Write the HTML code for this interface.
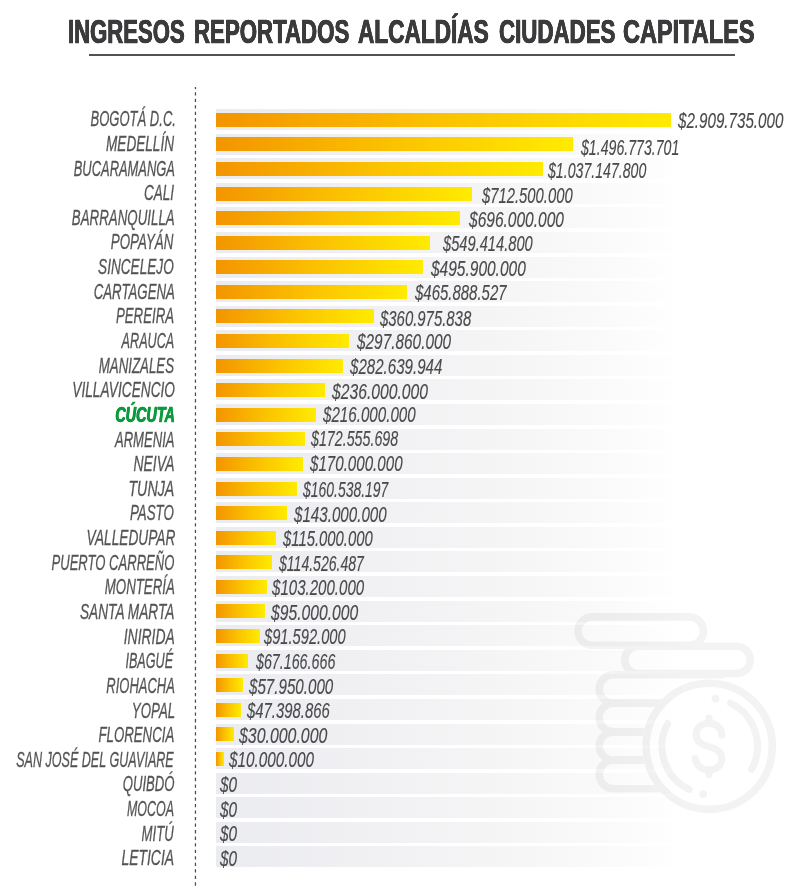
<!DOCTYPE html>
<html lang="es"><head><meta charset="utf-8"><title>Ingresos reportados alcaldías ciudades capitales</title>
<style>
html,body{margin:0;padding:0;background:#fff;font-family:"Liberation Sans",sans-serif;}
body{width:800px;height:896px;position:relative;overflow:hidden;font-family:"Liberation Sans",sans-serif;}
.title{position:absolute;left:0;top:11.1px;white-space:nowrap;font-weight:bold;font-size:33.7px;line-height:40px;color:#3b3b3d;-webkit-text-stroke:0.7px #3b3b3d;text-shadow:0.45px 0 0 #3b3b3d,-0.45px 0 0 #3b3b3d;transform-origin:0 50%;}
.rule{position:absolute;left:88.8px;top:54.1px;width:646.2px;height:1.8px;background:#525254;}
.band{position:absolute;left:216px;width:466px;height:21.0px;background:linear-gradient(to right,#ebecf0 0%,#f0f0f3 30%,#f5f5f6 61%,#fafafb 84%,#ffffff 100%);}
.bar{position:absolute;left:216px;height:14.0px;background:linear-gradient(to right,#f39500 0%,#fbc100 48%,#ffeb00 100%);}
.lbl{position:absolute;right:0;white-space:nowrap;font-style:italic;font-size:21.2px;line-height:24px;height:24px;color:#555557;-webkit-text-stroke:0.3px #555557;transform-origin:100% 50%;}
.lbl.hl{color:#0b9a3c;font-weight:bold;-webkit-text-stroke:0.3px #0b9a3c;text-shadow:0.5px 0 0 #0b9a3c,-0.5px 0 0 #0b9a3c;}
.val{position:absolute;left:0;white-space:nowrap;font-style:italic;font-size:21.4px;line-height:24px;height:24px;color:#4a4a4c;-webkit-text-stroke:0.15px #4a4a4c;transform-origin:0 50%;}
</style></head><body>
<div id="wrap" style="position:absolute;left:0;top:0;width:800px;height:896px;will-change:transform;">
<div class="title" style="left:67.50px;transform:scaleX(0.6559)">INGRESOS</div>
<div class="title" style="left:194.00px;transform:scaleX(0.6601)">REPORTADOS</div>
<div class="title" style="left:358.00px;transform:scaleX(0.6716)">ALCALDÍAS</div>
<div class="title" style="left:499.00px;transform:scaleX(0.6618)">CIUDADES</div>
<div class="title" style="left:623.00px;transform:scaleX(0.6980)">CAPITALES</div>
<div class="rule"></div>
<svg style="position:absolute;left:0;top:0" width="800" height="896" viewBox="0 0 800 896"><line x1="195.45" y1="87" x2="195.45" y2="888.6" stroke="#4c4c4e" stroke-width="1.25" stroke-dasharray="3.3 3.23" stroke-dashoffset="1.33"/></svg>

<div class="band" style="top:109.00px"></div>
<div class="bar" style="top:112.80px;width:454.8px"></div>
<div class="lbl" style="top:107.30px;right:624.25px;transform:scaleX(0.6146)">BOGOTÁ D.C.</div>
<div class="val" style="top:109.20px;left:678.35px;transform:scaleX(0.7085)">$2.909.735.000</div>
<div class="band" style="top:133.58px"></div>
<div class="bar" style="top:137.38px;width:357.2px"></div>
<div class="lbl" style="top:131.94px;right:626.00px;transform:scaleX(0.6415)">MEDELLÍN</div>
<div class="val" style="top:135.68px;left:581.15px;transform:scaleX(0.6614)">$1.496.773.701</div>
<div class="band" style="top:158.17px"></div>
<div class="bar" style="top:161.97px;width:326.7px"></div>
<div class="lbl" style="top:156.57px;right:625.00px;transform:scaleX(0.6102)">BUCARAMANGA</div>
<div class="val" style="top:159.37px;left:547.65px;transform:scaleX(0.6611)">$1.037.147.800</div>
<div class="band" style="top:182.75px"></div>
<div class="bar" style="top:186.55px;width:255.5px"></div>
<div class="lbl" style="top:181.21px;right:625.50px;transform:scaleX(0.6370)">CALI</div>
<div class="val" style="top:183.65px;left:481.95px;transform:scaleX(0.6933)">$712.500.000</div>
<div class="band" style="top:207.33px"></div>
<div class="bar" style="top:211.13px;width:244.0px"></div>
<div class="lbl" style="top:205.84px;right:625.50px;transform:scaleX(0.6282)">BARRANQUILLA</div>
<div class="val" style="top:207.53px;left:468.95px;transform:scaleX(0.7252)">$696.000.000</div>
<div class="band" style="top:231.91px"></div>
<div class="bar" style="top:235.72px;width:214.0px"></div>
<div class="lbl" style="top:230.48px;right:626.75px;transform:scaleX(0.6292)">POPAYÁN</div>
<div class="val" style="top:232.11px;left:443.35px;transform:scaleX(0.6857)">$549.414.800</div>
<div class="band" style="top:256.50px"></div>
<div class="bar" style="top:260.30px;width:207.1px"></div>
<div class="lbl" style="top:255.12px;right:626.50px;transform:scaleX(0.6425)">SINCELEJO</div>
<div class="val" style="top:256.70px;left:431.35px;transform:scaleX(0.7242)">$495.900.000</div>
<div class="band" style="top:281.08px"></div>
<div class="bar" style="top:284.88px;width:190.6px"></div>
<div class="lbl" style="top:279.75px;right:625.25px;transform:scaleX(0.6250)">CARTAGENA</div>
<div class="val" style="top:281.28px;left:415.35px;transform:scaleX(0.6994)">$465.888.527</div>
<div class="band" style="top:305.66px"></div>
<div class="bar" style="top:309.46px;width:158.2px"></div>
<div class="lbl" style="top:304.39px;right:625.75px;transform:scaleX(0.6245)">PEREIRA</div>
<div class="val" style="top:306.86px;left:380.35px;transform:scaleX(0.6970)">$360.975.838</div>
<div class="band" style="top:330.25px"></div>
<div class="bar" style="top:334.05px;width:133.4px"></div>
<div class="lbl" style="top:329.02px;right:625.50px;transform:scaleX(0.5970)">ARAUCA</div>
<div class="val" style="top:330.45px;left:356.65px;transform:scaleX(0.7191)">$297.860.000</div>
<div class="band" style="top:354.83px"></div>
<div class="bar" style="top:358.63px;width:126.7px"></div>
<div class="lbl" style="top:353.66px;right:625.50px;transform:scaleX(0.6270)">MANIZALES</div>
<div class="val" style="top:355.03px;left:350.15px;transform:scaleX(0.7055)">$282.639.944</div>
<div class="band" style="top:379.41px"></div>
<div class="bar" style="top:383.21px;width:108.8px"></div>
<div class="lbl" style="top:378.30px;right:625.25px;transform:scaleX(0.6459)">VILLAVICENCIO</div>
<div class="val" style="top:379.61px;left:332.35px;transform:scaleX(0.7331)">$236.000.000</div>
<div class="band" style="top:404.00px"></div>
<div class="bar" style="top:407.80px;width:99.6px"></div>
<div class="lbl hl" style="top:402.93px;right:625.50px;transform:scaleX(0.6775)">CÚCUTA</div>
<div class="val" style="top:403.10px;left:323.15px;transform:scaleX(0.7083)">$216.000.000</div>
<div class="band" style="top:428.58px"></div>
<div class="bar" style="top:432.38px;width:88.9px"></div>
<div class="lbl" style="top:427.57px;right:625.50px;transform:scaleX(0.6173)">ARMENIA</div>
<div class="val" style="top:427.48px;left:311.35px;transform:scaleX(0.6664)">$172.555.698</div>
<div class="band" style="top:453.16px"></div>
<div class="bar" style="top:456.96px;width:87.1px"></div>
<div class="lbl" style="top:452.20px;right:625.50px;transform:scaleX(0.6561)">NEIVA</div>
<div class="val" style="top:452.26px;left:309.75px;transform:scaleX(0.7073)">$170.000.000</div>
<div class="band" style="top:477.75px"></div>
<div class="bar" style="top:481.55px;width:80.6px"></div>
<div class="lbl" style="top:476.84px;right:625.50px;transform:scaleX(0.6717)">TUNJA</div>
<div class="val" style="top:478.25px;left:303.35px;transform:scaleX(0.6516)">$160.538.197</div>
<div class="band" style="top:502.33px"></div>
<div class="bar" style="top:506.13px;width:70.8px"></div>
<div class="lbl" style="top:501.48px;right:625.75px;transform:scaleX(0.6290)">PASTO</div>
<div class="val" style="top:502.73px;left:294.35px;transform:scaleX(0.7083)">$143.000.000</div>
<div class="band" style="top:526.91px"></div>
<div class="bar" style="top:530.71px;width:59.6px"></div>
<div class="lbl" style="top:526.11px;right:625.00px;transform:scaleX(0.6464)">VALLEDUPAR</div>
<div class="val" style="top:527.11px;left:283.35px;transform:scaleX(0.6946)">$115.000.000</div>
<div class="band" style="top:551.49px"></div>
<div class="bar" style="top:555.29px;width:56.2px"></div>
<div class="lbl" style="top:550.75px;right:626.00px;transform:scaleX(0.6162)">PUERTO CARREÑO</div>
<div class="val" style="top:551.69px;left:279.15px;transform:scaleX(0.6570)">$114.526.487</div>
<div class="band" style="top:576.08px"></div>
<div class="bar" style="top:579.88px;width:51.0px"></div>
<div class="lbl" style="top:575.38px;right:625.25px;transform:scaleX(0.6265)">MONTERÍA</div>
<div class="val" style="top:576.28px;left:272.35px;transform:scaleX(0.7046)">$103.200.000</div>
<div class="band" style="top:600.66px"></div>
<div class="bar" style="top:604.46px;width:48.7px"></div>
<div class="lbl" style="top:600.02px;right:625.50px;transform:scaleX(0.6449)">SANTA MARTA</div>
<div class="val" style="top:600.86px;left:270.65px;transform:scaleX(0.7336)">$95.000.000</div>
<div class="band" style="top:625.24px"></div>
<div class="bar" style="top:629.04px;width:43.5px"></div>
<div class="lbl" style="top:624.66px;right:625.50px;transform:scaleX(0.6559)">INIRIDA</div>
<div class="val" style="top:625.44px;left:264.35px;transform:scaleX(0.6862)">$91.592.000</div>
<div class="band" style="top:649.83px"></div>
<div class="bar" style="top:653.63px;width:32.0px"></div>
<div class="lbl" style="top:649.29px;right:626.75px;transform:scaleX(0.5953)">IBAGUÉ</div>
<div class="val" style="top:650.03px;left:255.95px;transform:scaleX(0.6667)">$67.166.666</div>
<div class="band" style="top:674.41px"></div>
<div class="bar" style="top:678.21px;width:27.2px"></div>
<div class="lbl" style="top:673.93px;right:625.25px;transform:scaleX(0.6122)">RIOHACHA</div>
<div class="val" style="top:674.61px;left:249.15px;transform:scaleX(0.7087)">$57.950.000</div>
<div class="band" style="top:698.99px"></div>
<div class="bar" style="top:702.79px;width:25.0px"></div>
<div class="lbl" style="top:698.56px;right:625.25px;transform:scaleX(0.6256)">YOPAL</div>
<div class="val" style="top:699.19px;left:246.65px;transform:scaleX(0.6953)">$47.398.866</div>
<div class="band" style="top:723.57px"></div>
<div class="bar" style="top:727.37px;width:18.1px"></div>
<div class="lbl" style="top:723.20px;right:625.50px;transform:scaleX(0.6250)">FLORENCIA</div>
<div class="val" style="top:723.77px;left:238.95px;transform:scaleX(0.7427)">$30.000.000</div>
<div class="band" style="top:748.16px"></div>
<div class="bar" style="top:751.96px;width:7.7px"></div>
<div class="lbl" style="top:747.84px;right:626.50px;transform:scaleX(0.5929)">SAN JOSÉ DEL GUAVIARE</div>
<div class="val" style="top:748.36px;left:229.15px;transform:scaleX(0.7150)">$10.000.000</div>
<div class="band" style="top:772.74px"></div>
<div class="lbl" style="top:772.47px;right:625.50px;transform:scaleX(0.6210)">QUIBDÓ</div>
<div class="val" style="top:772.94px;left:219.55px;transform:scaleX(0.7190)">$0</div>
<div class="band" style="top:797.32px"></div>
<div class="lbl" style="top:797.11px;right:625.75px;transform:scaleX(0.5888)">MOCOA</div>
<div class="val" style="top:797.52px;left:219.55px;transform:scaleX(0.7190)">$0</div>
<div class="band" style="top:821.91px"></div>
<div class="lbl" style="top:821.74px;right:626.50px;transform:scaleX(0.6215)">MITÚ</div>
<div class="val" style="top:822.11px;left:219.55px;transform:scaleX(0.7190)">$0</div>
<div class="band" style="top:846.49px"></div>
<div class="lbl" style="top:846.38px;right:625.75px;transform:scaleX(0.6578)">LETICIA</div>
<div class="val" style="top:846.69px;left:219.55px;transform:scaleX(0.7190)">$0</div>
<svg style="position:absolute;left:0;top:0" width="800" height="896" viewBox="0 0 800 896">
<defs><mask id="m" maskUnits="userSpaceOnUse" x="0" y="0" width="800" height="896"><rect width="800" height="896" fill="#fff"/><circle cx="709.2" cy="746.3" r="66.9" fill="#000"/></mask></defs>
<g opacity=".047" fill="none" stroke="#000" stroke-width="7.6" stroke-linecap="round" stroke-linejoin="round">
<g mask="url(#m)">
<rect x="578" y="616.9" width="125.4" height="28.4" rx="14.2"/>
<rect x="624.7" y="646.3" width="125.5" height="27.2" rx="13.6"/>
<path d="M722 674.7H613.4A14.2 14.2 0 0 0 613.4 703.1H722"/>
<rect x="599.2" y="703.1" width="150" height="28.8" rx="14.4"/>
<rect x="599.2" y="731.9" width="150" height="28.1" rx="14.05"/>
<rect x="599.2" y="760" width="150" height="28.75" rx="14.3"/>
</g>
<circle cx="709.2" cy="746.3" r="63.1"/>
<path d="M689.3 789.5A47.8 47.8 0 0 1 667.7 723.5" stroke-width="7"/>
<path d="M730.4 703.2A47.8 47.8 0 0 1 751.6 769.3" stroke-width="7"/>
<circle cx="715.5" cy="698.7" r="3.9" fill="#000" stroke="none"/>
<circle cx="703.2" cy="794.1" r="3.9" fill="#000" stroke="none"/>
<g transform="translate(709 746.6) scale(1.06)" stroke-width="6.6">
<path d="M12.2 -10.7C12.2 -17 7 -22 0 -22C-7 -22 -12.2 -17.5 -12.2 -11.5C-12.2 -5 -6 -1.6 0 0C6 1.6 12.2 5 12.2 11.5C12.2 17.5 7 22 0 22C-7 22 -13 17 -13 10.9"/>
<path d="M0 -27V-22M0 22V26.6"/>
</g>
</g>
</svg>
</div></body></html>
